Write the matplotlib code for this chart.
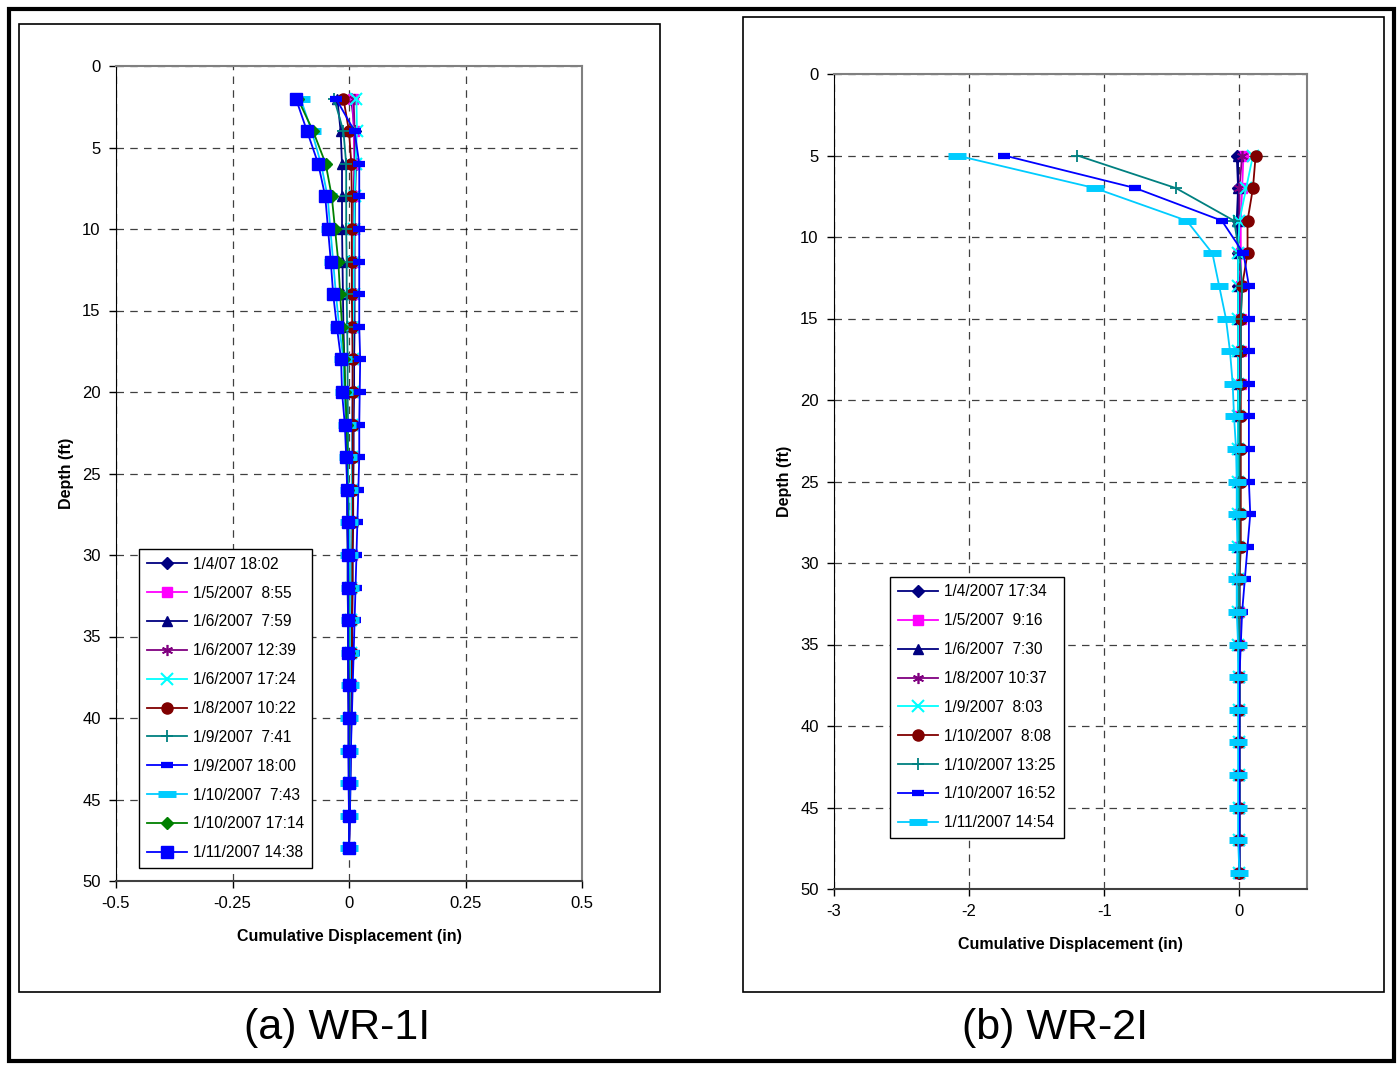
import matplotlib
matplotlib.use("Agg")
import matplotlib.pyplot as plt
from matplotlib.patches import Rectangle

plt.rcParams['font.family'] = ['Liberation Sans', 'DejaVu Sans']

# ---------------- data: WR-1I ----------------
depth_1 = [2, 4, 6, 8, 10, 12, 14, 16, 18, 20, 22, 24, 26, 28, 30, 32, 34, 36, 38, 40, 42, 44, 46, 48]

labels_1 = ["1/4/07 18:02", "1/5/2007  8:55", "1/6/2007  7:59", "1/6/2007 12:39",
            "1/6/2007 17:24", "1/8/2007 10:22", "1/9/2007  7:41", "1/9/2007 18:00",
            "1/10/2007  7:43", "1/10/2007 17:14", "1/11/2007 14:38"]

wr1_a = [0.005, 0.012, 0.015, 0.013, 0.012, 0.012, 0.012, 0.012, 0.011, 0.011, 0.010, 0.010,
         0.009, 0.009, 0.008, 0.008, 0.007, 0.007, 0.006, 0.005, 0.004, 0.003, 0.002, 0.0]
wr1_b = [0.008, 0.010, 0.012, 0.010, 0.010, 0.010, 0.009, 0.009, 0.008, 0.008, 0.007, 0.007,
         0.006, 0.006, 0.006, 0.005, 0.005, 0.004, 0.004, 0.003, 0.003, 0.002, 0.001, 0.0]
wr1_c = [-0.025, -0.018, -0.015, -0.015, -0.015, -0.014, -0.013, -0.012, -0.010, -0.008, -0.006, -0.005,
         -0.004, -0.004, -0.003, -0.003, -0.002, -0.002, -0.002, -0.001, -0.001, 0.0, 0.0, 0.0]
wr1_d = [0.010, 0.012, 0.012, 0.010, 0.010, 0.009, 0.009, 0.008, 0.008, 0.008, 0.007, 0.007,
         0.006, 0.006, 0.005, 0.005, 0.005, 0.004, 0.004, 0.003, 0.003, 0.002, 0.001, 0.0]
wr1_e = [0.016, 0.017, 0.014, 0.012, 0.011, 0.010, 0.010, 0.009, 0.008, 0.008, 0.007, 0.007,
         0.006, 0.006, 0.005, 0.005, 0.004, 0.004, 0.003, 0.003, 0.002, 0.002, 0.001, 0.0]
wr1_f = [-0.012, 0.0, 0.005, 0.006, 0.006, 0.006, 0.006, 0.007, 0.008, 0.008, 0.008, 0.008,
         0.008, 0.008, 0.007, 0.007, 0.006, 0.006, 0.005, 0.004, 0.003, 0.002, 0.001, 0.0]
wr1_g = [-0.032, -0.012, -0.006, -0.006, -0.006, -0.005, -0.005, -0.004, -0.003, -0.003, -0.002, -0.002,
         -0.002, -0.001, -0.001, -0.001, -0.001, 0.0, 0.0, 0.0, 0.0, 0.0, 0.0, 0.0]
wr1_h = [-0.028, 0.012, 0.022, 0.022, 0.022, 0.022, 0.022, 0.022, 0.024, 0.023, 0.022, 0.022,
         0.020, 0.018, 0.016, 0.014, 0.012, 0.010, 0.008, 0.006, 0.004, 0.003, 0.002, 0.0]
wr1_i = [-0.104, -0.080, -0.060, -0.046, -0.040, -0.034, -0.028, -0.021, -0.012, -0.010, -0.005, -0.003,
         -0.001, 0.0, 0.001, 0.002, 0.002, 0.002, 0.002, 0.001, 0.001, 0.001, 0.0, 0.0]
wr1_j = [-0.110, -0.077, -0.050, -0.037, -0.030, -0.023, -0.019, -0.015, -0.010, -0.008, -0.005, -0.004,
         -0.003, -0.002, -0.002, -0.001, -0.001, -0.001, 0.0, 0.0, 0.0, 0.0, 0.0, 0.0]
wr1_k = [-0.114, -0.090, -0.066, -0.051, -0.045, -0.039, -0.034, -0.026, -0.017, -0.015, -0.009, -0.006,
         -0.004, -0.003, -0.002, -0.002, -0.002, -0.002, -0.001, -0.001, -0.001, -0.001, 0.0, 0.0]

# ---------------- data: WR-2I ----------------
depth_2 = [5, 7, 9, 11, 13, 15, 17, 19, 21, 23, 25, 27, 29, 31, 33, 35, 37, 39, 41, 43, 45, 47, 49]

labels_2 = ["1/4/2007 17:34", "1/5/2007  9:16", "1/6/2007  7:30", "1/8/2007 10:37",
            "1/9/2007  8:03", "1/10/2007  8:08", "1/10/2007 13:25", "1/10/2007 16:52",
            "1/11/2007 14:54"]

wr2_a = [-0.02, -0.01, -0.01, -0.01, -0.01, -0.01, -0.01, -0.01, -0.01, -0.01, -0.01, -0.01,
         -0.01, -0.01, -0.01, 0.0, 0.0, 0.0, 0.0, 0.0, 0.0, 0.0, 0.0]
wr2_b = [0.03, 0.02, 0.01, 0.01, 0.01, 0.01, 0.01, 0.01, 0.0, 0.0, 0.0, 0.0,
         0.0, 0.0, 0.0, 0.0, 0.0, 0.0, 0.0, 0.0, 0.0, 0.0, 0.0]
wr2_c = [-0.01, -0.01, -0.02, -0.01, -0.01, -0.01, -0.01, -0.01, -0.01, -0.01, -0.01, -0.01,
         -0.01, -0.01, -0.01, -0.01, 0.0, 0.0, 0.0, 0.0, 0.0, 0.0, 0.0]
wr2_d = [0.02, 0.0, 0.0, -0.01, 0.0, 0.0, 0.0, 0.0, 0.0, 0.0, 0.0, 0.0,
         0.0, 0.0, 0.0, 0.0, 0.0, 0.0, 0.0, 0.0, 0.0, 0.0, 0.0]
wr2_e = [0.10, 0.05, 0.0, -0.01, -0.01, -0.01, -0.01, -0.01, -0.01, -0.01, -0.01, -0.01,
         -0.01, -0.01, -0.01, -0.01, 0.0, 0.0, 0.0, 0.0, 0.0, 0.0, 0.0]
wr2_f = [0.12, 0.10, 0.06, 0.06, 0.02, 0.01, 0.01, 0.01, 0.01, 0.01, 0.01, 0.01,
         0.01, 0.0, 0.0, 0.0, 0.0, 0.0, 0.0, 0.0, 0.0, 0.0, 0.0]
wr2_g = [-1.20, -0.47, -0.04, 0.0, 0.02, 0.01, 0.01, 0.01, 0.0, 0.0, 0.0, 0.0,
         0.0, 0.0, 0.0, 0.0, 0.0, 0.0, 0.0, 0.0, 0.0, 0.0, 0.0]
wr2_h = [-1.74, -0.77, -0.13, 0.03, 0.07, 0.07, 0.07, 0.07, 0.07, 0.07, 0.07, 0.08,
         0.06, 0.04, 0.02, 0.01, 0.0, 0.0, 0.0, 0.0, 0.0, 0.0, 0.0]
wr2_i = [-2.09, -1.07, -0.39, -0.20, -0.15, -0.10, -0.07, -0.05, -0.04, -0.025, -0.02, -0.02,
         -0.015, -0.02, -0.02, -0.01, -0.01, -0.01, -0.01, -0.01, -0.01, -0.01, 0.0]

# ---------------- styles ----------------
navy, magenta, purple, cyan = "#000080", "#FF00FF", "#800080", "#00FFFF"
dred, teal, blue, sky, green = "#800000", "#008080", "#0000FF", "#00CCFF", "#008000"

st_diamond = dict(color=navy, marker="D", ms=6)
st_square = dict(color=magenta, marker="s", ms=7)
st_tri = dict(color=navy, marker="^", ms=7)
st_star = dict(color=purple, marker=(6, 2, 0), ms=8, mew=1.2)
st_x = dict(color=cyan, marker="x", ms=8, mew=1.5)
st_circ = dict(color=dred, marker="o", ms=8)
st_plus = dict(color=teal, marker="+", ms=9, mew=1.3)
st_dash = dict(color=blue, marker="_", ms=9, mew=4.5)
st_ldash = dict(color=sky, marker="_", ms=13, mew=5)
st_gdia = dict(color=green, marker="D", ms=6)
st_bsq = dict(color=blue, marker="s", ms=9)

series_1 = [(wr1_a, st_diamond), (wr1_b, st_square), (wr1_c, st_tri), (wr1_d, st_star),
            (wr1_e, st_x), (wr1_f, st_circ), (wr1_g, st_plus), (wr1_h, st_dash),
            (wr1_i, st_ldash), (wr1_j, st_gdia), (wr1_k, st_bsq)]
series_2 = [(wr2_a, st_diamond), (wr2_b, st_square), (wr2_c, st_tri), (wr2_d, st_star),
            (wr2_e, st_x), (wr2_f, st_circ), (wr2_g, st_plus), (wr2_h, st_dash),
            (wr2_i, st_ldash)]

W, H = 1400, 1066
fig = plt.figure(figsize=(W / 100, H / 100), dpi=100)


def fbox(x0, y0, x1, y1):
    # pixel box (top-left origin) -> figure fraction rect
    return [x0 / W, 1 - y1 / H, (x1 - x0) / W, (y1 - y0) / H]


def frame(x0, y0, x1, y1, lw):
    r = fbox(x0, y0, x1, y1)
    fig.patches.append(Rectangle((r[0], r[1]), r[2], r[3], transform=fig.transFigure,
                                 fill=False, edgecolor="black", linewidth=lw))


frame(9, 9, 1394, 1061, 3)
frame(19, 24, 660, 992, 1.2)
frame(743, 17, 1384, 992, 1.2)


def make_panel(rect, depth, series, labels, xlim, xticks, xticklabels, leg_anchor, ylab_x, xlab_y):
    ax = fig.add_axes(rect)
    for (vals, st), lab in zip(series, labels):
        ax.plot(vals, depth, lw=1.3, mec=st["color"], label=lab, **st)
    ax.set_xlim(*xlim)
    ax.set_ylim(50, 0)
    ax.set_xticks(xticks)
    ax.set_xticklabels(xticklabels)
    ax.set_yticks(range(0, 51, 5))
    ax.grid(True, color="black", ls=(0, (6, 5)), lw=0.9, alpha=0.75)
    ax.set_axisbelow(True)
    ax.tick_params(direction="out", length=5, labelsize=12, width=1, pad=6, colors="black")
    for s in ["top", "right"]:
        ax.spines[s].set_color("#808080")
        ax.spines[s].set_linewidth(1.5)
    ax.spines["left"].set_color("black")
    ax.spines["bottom"].set_color("#404040")
    ax.spines["bottom"].set_linewidth(1.5)
    fig.text(ylab_x, rect[1] + rect[3] / 2, "Depth (ft)", rotation=90, ha="center", va="center",
             fontsize=11.5, fontweight="bold")
    fig.text(rect[0] + rect[2] / 2, xlab_y, "Cumulative Displacement (in)", ha="center", va="center",
             fontsize=11.5, fontweight="bold")
    leg = ax.legend(loc="lower left", bbox_to_anchor=leg_anchor, bbox_transform=fig.transFigure,
                    fontsize=11.2, frameon=True, fancybox=False, framealpha=1, edgecolor="black",
                    handlelength=2.6, labelspacing=0.89, borderpad=0.5, handletextpad=0.4,
                    borderaxespad=0)
    leg.get_frame().set_linewidth(1)
    return ax


make_panel(fbox(116, 66, 582, 881), depth_1, series_1, labels_1,
           (-0.5, 0.5), [-0.5, -0.25, 0, 0.25, 0.5], ["-0.5", "-0.25", "0", "0.25", "0.5"],
           (139 / W, 1 - 868 / H), 66 / W, 1 - 937 / H)
make_panel(fbox(834, 74, 1307, 889), depth_2, series_2, labels_2,
           (-3, 0.5), [-3, -2, -1, 0], ["-3", "-2", "-1", "0"],
           (890 / W, 1 - 838 / H), 785 / W, 1 - 944 / H)

fig.text(337 / W, 1 - 1028 / H, "(a) WR-1I", ha="center", va="center", fontsize=31)
fig.text(1055 / W, 1 - 1028 / H, "(b) WR-2I", ha="center", va="center", fontsize=31)

fig.savefig("out.png", dpi=100, facecolor="white")
